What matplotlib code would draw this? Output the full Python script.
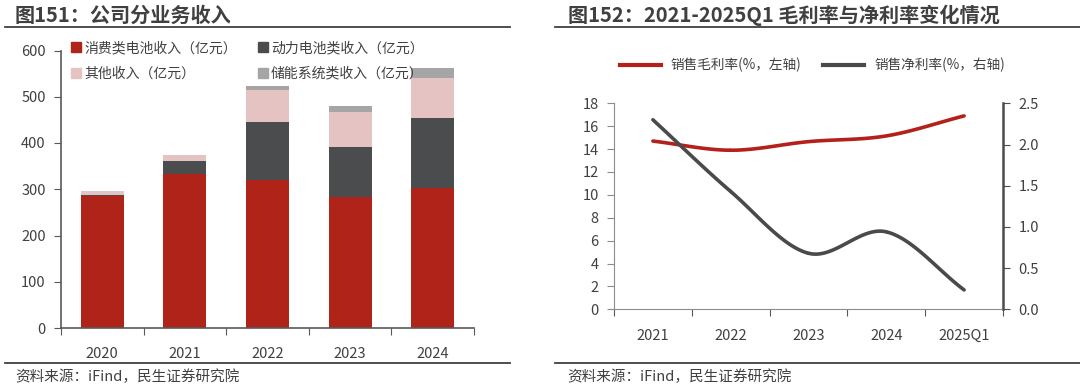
import numpy as np
import matplotlib
matplotlib.use("Agg")
import matplotlib.pyplot as plt
from matplotlib.lines import Line2D
from matplotlib.patches import Patch

plt.rcParams['font.family'] = ['Noto Sans CJK SC', 'DejaVu Sans']

W, H = 1080, 388

# left chart: revenue by business (亿元)
years = ['2020', '2021', '2022', '2023', '2024']
consumer = [285, 332, 319, 283, 302]
power = [3, 30, 127, 109, 153]
other = [9, 12, 69, 74, 85]
storage = [0, 1, 9, 15, 23]

# right chart: margins
periods = ['2021', '2022', '2023', '2024', '2025Q1']
gross_margin = [14.7, 13.9, 14.65, 15.15, 16.9]
net_margin = [2.30, 1.43, 0.68, 0.94, 0.235]

RED = '#AF2318'
DARK = '#4B4C4E'
PINK = '#E6C3C3'
GRAY = '#A5A5A5'
TXT = '#404040'
TICK = '#595959'


def fx(px):
    return px / W


def fy(py):
    return 1 - py / H


def smooth(xs, ys, n=30):
    # catmull-rom curve through the points, like excel's smoothed line
    xs = np.asarray(xs, float)
    ys = np.asarray(ys, float)
    px = np.concatenate([[2 * xs[0] - xs[1]], xs, [2 * xs[-1] - xs[-2]]])
    py = np.concatenate([[2 * ys[0] - ys[1]], ys, [2 * ys[-1] - ys[-2]]])
    ox, oy = [], []
    t = np.linspace(0, 1, n)
    for i in range(1, len(px) - 2):
        for arr, out in ((px, ox), (py, oy)):
            p0, p1, p2, p3 = arr[i - 1], arr[i], arr[i + 1], arr[i + 2]
            out.extend(0.5 * (2 * p1 + (-p0 + p2) * t
                              + (2 * p0 - 5 * p1 + 4 * p2 - p3) * t ** 2
                              + (-p0 + 3 * p1 - 3 * p2 + p3) * t ** 3))
    return np.array(ox), np.array(oy)


fig = plt.figure(figsize=(W / 100, H / 100), dpi=100)

# titles and rules
fig.text(fx(15), fy(15), '图151：公司分业务收入', fontsize=14.5, fontweight='bold',
         color=TXT, va='center', ha='left')
fig.text(fx(568), fy(15), '图152：2021-2025Q1 毛利率与净利率变化情况', fontsize=14.5,
         fontweight='bold', color=TXT, va='center', ha='left')
for x0, x1 in ((5, 510), (555, 1080)):
    fig.add_artist(Line2D([fx(x0), fx(x1)], [fy(27), fy(27)], color='#404040', lw=1.3))
    fig.add_artist(Line2D([fx(x0), fx(x1)], [fy(363), fy(363)], color='#404040', lw=1.3))
fig.text(fx(15), fy(377), '资料来源：iFind，民生证券研究院', fontsize=10.5, color=TXT,
         va='center', ha='left')
fig.text(fx(567), fy(377), '资料来源：iFind，民生证券研究院', fontsize=10.5, color=TXT,
         va='center', ha='left')

# ---- left: stacked bars
ax = fig.add_axes([fx(61), fy(328), fx(474 - 61), (328 - 50.5) / H])
x = np.arange(len(years))
bw = 0.52
b1 = np.array(consumer)
b2 = b1 + np.array(power)
b3 = b2 + np.array(other)
ax.bar(x, consumer, bw, color=RED)
ax.bar(x, power, bw, bottom=b1, color=DARK)
ax.bar(x, other, bw, bottom=b2, color=PINK)
ax.bar(x, storage, bw, bottom=b3, color=GRAY)
ax.set_xlim(-0.5, 4.5)
ax.set_ylim(0, 600)
ax.set_yticks(range(0, 601, 100))
ax.set_xticks(np.arange(-0.5, 5, 1))
ax.set_xticklabels([])
ax.set_xticks(x, minor=True)
ax.set_xticklabels(years, minor=True)
ax.tick_params(axis='x', which='major', length=5, color=TICK, direction='out')
ax.tick_params(axis='x', which='minor', length=0, pad=14, labelsize=10.5, labelcolor=TXT)
ax.tick_params(axis='y', length=5, color=TICK, labelsize=10.5, labelcolor=TXT, pad=6)
for s in ('top', 'right'):
    ax.spines[s].set_visible(False)
for s in ('left', 'bottom'):
    ax.spines[s].set_color(TICK)
    ax.spines[s].set_linewidth(1.2)

# legend fills column-first, so order to get rows: consumer/power, other/storage
handles = [Patch(color=RED), Patch(color=PINK), Patch(color=DARK), Patch(color=GRAY)]
labels = ['消费类电池收入（亿元）', '其他收入（亿元）', '动力电池类收入（亿元）', '储能系统类收入（亿元）']
ax.legend(handles, labels, ncol=2, loc='upper left', bbox_to_anchor=(fx(64), fy(34)),
          bbox_transform=fig.transFigure, frameon=False, fontsize=10,
          handlelength=0.75, handleheight=0.75, handletextpad=0.2,
          columnspacing=1.5, labelspacing=0.85, borderpad=0, labelcolor=TXT)

# ---- right: margins
ax2 = fig.add_axes([fx(614), fy(309.3), fx(1003 - 614), (309.3 - 103.3) / H])
ax3 = ax2.twinx()
xp = np.arange(len(periods))
sx, sy = smooth(xp, gross_margin)
ax2.plot(sx, sy, color='#B3211A', lw=2.6, solid_capstyle='round')
sx, sy = smooth(xp, net_margin)
ax3.plot(sx, sy, color='#4A4A4A', lw=2.6, solid_capstyle='round')
ax2.set_xlim(-0.5, 4.5)
ax2.set_ylim(0, 18)
ax2.set_yticks(range(0, 19, 2))
ax3.set_ylim(0, 2.5)
ax3.set_yticks(np.arange(0, 2.51, 0.5))
ax3.set_yticklabels(['%.1f' % v for v in np.arange(0, 2.51, 0.5)])
ax2.set_xticks(np.arange(-0.5, 5, 1))
ax2.set_xticklabels([])
ax2.set_xticks(xp, minor=True)
ax2.set_xticklabels(periods, minor=True)
ax2.tick_params(axis='x', which='major', length=5, color=TICK, direction='out')
ax2.tick_params(axis='x', which='minor', length=0, pad=14, labelsize=10.5, labelcolor=TXT)
ax2.tick_params(axis='y', length=5, color='#8C8C8C', labelsize=10.5, labelcolor=TXT, pad=6)
ax3.tick_params(axis='y', length=5, color=DARK, labelsize=10.5, labelcolor=TXT, pad=6)
for a in (ax2, ax3):
    a.spines['top'].set_visible(False)
ax2.spines['right'].set_visible(False)
ax3.spines['left'].set_visible(False)
ax3.spines['bottom'].set_visible(False)
ax2.spines['left'].set_color('#8C8C8C')
ax2.spines['bottom'].set_color('#8C8C8C')
ax3.spines['right'].set_color(DARK)
ax3.spines['right'].set_linewidth(1.8)

lh = [Line2D([], [], color='#B3211A', lw=3), Line2D([], [], color='#4A4A4A', lw=3)]
ax2.legend(lh, ['销售毛利率(%，左轴)', '销售净利率(%，右轴)'], ncol=2, loc='center left',
           bbox_to_anchor=(fx(613), fy(65)), bbox_transform=fig.transFigure,
           frameon=False, fontsize=9.8, handlelength=3.0, handletextpad=0.75,
           columnspacing=1.6, borderpad=0, labelcolor=TXT)

fig.savefig('out.png', dpi=100)
